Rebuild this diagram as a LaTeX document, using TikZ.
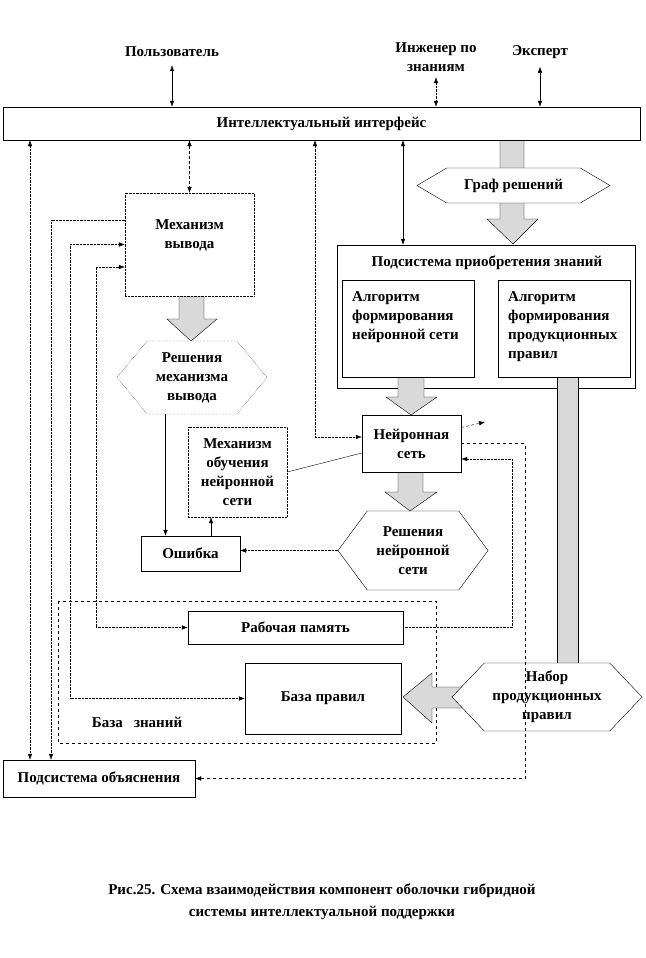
\documentclass[tikz,border=0pt]{standalone}
\usepackage{fontspec}
\setmainfont{Liberation Serif}
\usetikzlibrary{shapes.symbols,arrows.meta}

\begin{document}
\begin{tikzpicture}[x=1pt,y=-1pt]

\tikzset{box/.style = {draw, fill=white, align=center, inner sep=0pt, font=\fontsize{15}{19}\selectfont\bfseries}}
\tikzset{hex/.style = {shape=signal, signal to=west and east, draw, fill=white, align=center, inner sep=0pt, font=\fontsize{15}{19}\selectfont\bfseries}}
\tikzset{txt/.style = {align=center, inner sep=0pt, font=\fontsize{15}{19}\selectfont\bfseries}}
\tikzset{edge/.style = {> = {Latex[length=6pt,width=4.5pt]}}}
\tikzset{fat/.style = {draw, fill=gray!30}}

\useasboundingbox (0,0) rectangle (645,958);

% база знаний
\draw[dashed] (58,601) rectangle (436,743);
\node[txt] (kbname) at (137,722) {База\ \ \ знаний};

\node[box, minimum width=298, minimum height=143] (acq) at (486,316.5) {};
\node[txt] (acqname) at (487,263) {Подсистема приобретения знаний};

% широкие стрелки
\draw[fat] (500,140) -- (524,140) -- (524,219) -- (538,219) -- (513,244) -- (487,219) -- (500,219) -- cycle;
\draw[fat] (179,296) -- (204,296) -- (204,319) -- (217,319) -- (191,341) -- (167,319) -- (179,319) -- cycle;
\draw[fat] (398,377) -- (424,377) -- (424,397) -- (437,397) -- (411,415) -- (386,397) -- (398,397) -- cycle;
\draw[fat] (398,472) -- (423,472) -- (423,492) -- (437,492) -- (410,511) -- (385,492) -- (398,492) -- cycle;
\draw[fat] (557,377) rectangle (578,670);
\draw[fat] (462,687) -- (432,687) -- (432,673) -- (403,697) -- (432,723) -- (432,708) -- (462,708) -- cycle;

\node[box, minimum width=637, minimum height=33] (iface) at (321.5,123.5) {Интеллектуальный интерфейс};
\node[txt] (user) at (172,52) {Пользователь};
\node[txt] (eng) at (436,57.5) {Инженер по\\знаниям};
\node[txt] (expert) at (540,52) {Эксперт};

\node[box, densely dotted, minimum width=129, minimum height=103] (mech) at (189.5,244.5) {};
\node[txt] (mechtxt) at (189.5,235) {Механизм\\вывода};
\node[hex, densely dotted, minimum width=150, minimum height=73, signal pointer angle=101] (rmech) at (192,377.5) {Решения\\механизма\\вывода};
\node[hex, minimum width=193, minimum height=35, signal pointer angle=61] (graph) at (513.5,185.5) {Граф решений};

\node[box, minimum width=132, minimum height=97] (alg1) at (408,328.5) {};
\node[txt, anchor=north west, align=left] (alg1txt) at (352,291) {Алгоритм\\формирования\\нейронной сети};
\node[box, minimum width=132, minimum height=97] (alg2) at (564,328.5) {};
\node[txt, anchor=north west, align=left] (alg2txt) at (508,291) {Алгоритм\\формирования\\продукционных\\правил};

\node[box, minimum width=99, minimum height=57] (nn) at (411.5,443.5) {Нейронная\\сеть};
\node[box, densely dotted, minimum width=99, minimum height=90] (learn) at (237.5,472) {Механизм\\обучения\\нейронной\\сети};
\node[box, minimum width=99, minimum height=35] (err) at (190.5,553.5) {Ошибка};
\node[hex, minimum width=150, minimum height=79, signal pointer angle=107] (rnn) at (413,550.5) {Решения\\нейронной\\сети};

\node[box, minimum width=215, minimum height=33] (wm) at (295.5,627.5) {Рабочая память};
\node[box, minimum width=156, minimum height=71] (rules) at (323,698.5) {База правил};
\node[hex, minimum width=190, minimum height=68, signal pointer angle=93] (nabor) at (547,697) {Набор\\продукционных\\правил};
\node[box, minimum width=192, minimum height=37] (expl) at (99,778.5) {Подсистема объяснения};

\node[txt, font=\fontsize{15}{22}\selectfont\bfseries] (caption) at (322,902) {Рис.25. Схема взаимодействия компонент оболочки гибридной\\системы интеллектуальной поддержки};

% линии связи
\coordinate (lx1) at (30,0);
\coordinate (lx2) at (51,0);
\coordinate (lx3) at (70,0);
\coordinate (lx4) at (96,0);
\coordinate (mx) at (315,0);
\coordinate (rx1) at (512,0);
\coordinate (rx2) at (525,0);
\coordinate (acqin) at ([xshift=-83pt]acq.north);
\coordinate (mechout) at ([yshift=24.5pt]mech.west);
\coordinate (mechin) at ([yshift=-22.5pt]mech.west);
\coordinate (nnin1) at ([yshift=6.5pt]nn.west);
\coordinate (nnin2) at ([yshift=-15.5pt]nn.east);
\coordinate (nnin3) at ([yshift=-9.5pt]nn.west);
\coordinate (nnout) at ([yshift=16pt]nn.east);
\coordinate (nnfree) at (485,422);
\coordinate (errin) at ([xshift=-25pt]err.north);
\coordinate (errout) at ([xshift=20.5pt]err.north);

\draw[edge,<->,shorten <=8pt] (user) -- (user |- iface.north);
\draw[edge,<->,densely dotted,shorten <=5pt] (eng) -- (eng |- iface.north);
\draw[edge,<->,shorten <=8pt] (expert) -- (expert |- iface.north);
\draw[edge,<->,densely dashed] (iface.south -| mech) -- (mech);
\draw[edge,<->] (iface.south -| acqin) -- (acqin);

\draw[edge,<->,densely dotted] (iface.south -| lx1) -- (expl.north -| lx1);
\draw[edge,->,densely dotted] (mechout) -| (expl.north -| lx2);
\draw[edge,<->,densely dotted] (rules.west) -- (rules.west -| lx3) -- (mech.west -| lx3) -- (mech.west);
\draw[edge,<->,densely dotted] (wm.west) -- (wm.west -| lx4) -- (mechin -| lx4) -- (mechin);
\draw[edge,<->,densely dotted] (nnin1) -| (iface.south -| mx);
\draw[edge,->,densely dashed] (nnout) -- (nnfree);
\draw[edge,->,dashed] (nn.east) -- (nn.east -| rx2) -- (expl.east -| rx2) -- (expl.east);
\draw[edge,->,densely dotted] (wm.east) -- (wm.east -| rx1) -- (nnin2 -| rx1) -- (nnin2);
\draw (learn.east) -- (nnin3);
\draw[edge,->] (rmech.south -| errin) -- (errin);
\draw[edge,->] (errout) -- (errout |- learn.south);
\draw[edge,->,densely dotted] (rnn.west) -- (rnn.west -| err.east);

\end{tikzpicture}
\end{document}
